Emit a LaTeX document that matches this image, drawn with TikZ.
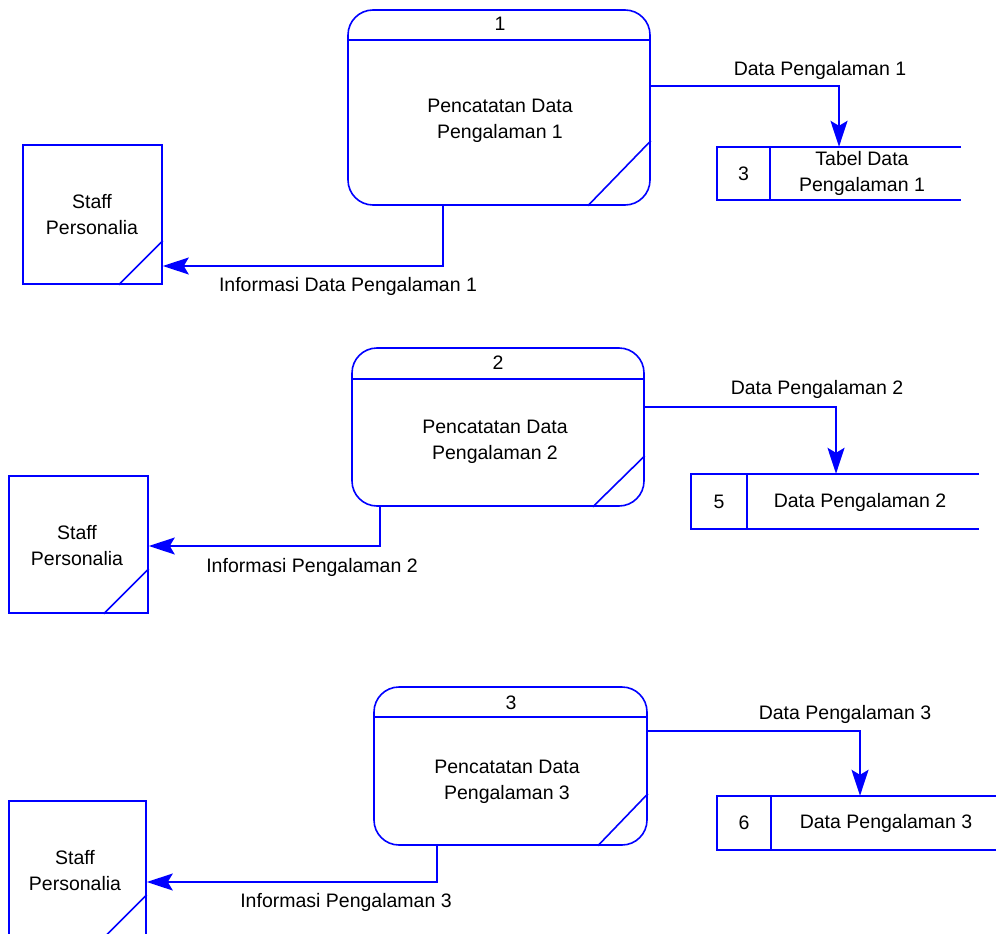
\documentclass[tikz,border=0pt]{standalone}
\usepackage{fontspec}
\setmainfont{Liberation Sans}
\usetikzlibrary{arrows.meta}
\definecolor{dfdblue}{RGB}{0,0,255}

\begin{document}
\begin{tikzpicture}[x=1pt,y=-1pt,
            proc/.style={draw=dfdblue,line width=1.6pt,rounded corners=25pt,inner sep=0pt},
            ent/.style={draw=dfdblue,line width=1.6pt,inner sep=0pt},
            store/.style={inner sep=0pt},
            txt/.style={font=\fontsize{19.5}{26}\selectfont,align=center,inner sep=0pt},
            edge/.style={draw=dfdblue,line width=1.6pt},
            flow/.style={edge,-{Stealth[length=26pt,width=17pt,inset=5pt]}}]
            \useasboundingbox (0,0) rectangle (996,934);
            \node [proc,minimum width=302pt,minimum height=195pt] (p1) at (499,107.5) {};
            \draw [edge] ([yshift=-31pt]p1.north west) -- ([yshift=-31pt]p1.north east);
            \draw [edge] ([yshift=65pt]p1.south east) -- ([xshift=-63pt]p1.south east);
            \node [txt] (p1num) at (500,24) {1};
            \node [txt] (p1txt) at (500,121) {Pencatatan Data\\Pengalaman 1};
            \node [proc,minimum width=292pt,minimum height=158pt] (p2) at (498,427) {};
            \draw [edge] ([yshift=-32pt]p2.north west) -- ([yshift=-32pt]p2.north east);
            \draw [edge] ([yshift=51pt]p2.south east) -- ([xshift=-52pt]p2.south east);
            \node [txt] (p2num) at (498,363) {2};
            \node [txt] (p2txt) at (495,442) {Pencatatan Data\\Pengalaman 2};
            \node [proc,minimum width=273pt,minimum height=158pt] (p3) at (510.5,766) {};
            \draw [edge] ([yshift=-31pt]p3.north west) -- ([yshift=-31pt]p3.north east);
            \draw [edge] ([yshift=52pt]p3.south east) -- ([xshift=-50pt]p3.south east);
            \node [txt] (p3num) at (511,703) {3};
            \node [txt] (p3txt) at (507,782) {Pencatatan Data\\Pengalaman 3};
            \node [ent,minimum width=139pt,minimum height=139pt] (e1) at (92.5,214.5) {};
            \draw [edge] ([yshift=44pt]e1.south east) -- ([xshift=-44pt]e1.south east);
            \node [txt] (e1txt) at (92,215) {Staff\\Personalia};
            \node [ent,minimum width=139pt,minimum height=137pt] (e2) at (78.5,544.5) {};
            \draw [edge] ([yshift=45pt]e2.south east) -- ([xshift=-45pt]e2.south east);
            \node [txt] (e2txt) at (77,546) {Staff\\Personalia};
            \node [ent,minimum width=137pt,minimum height=137pt] (e3) at (77.5,869.5) {};
            \draw [edge] ([yshift=44pt]e3.south east) -- ([xshift=-44pt]e3.south east);
            \node [txt] (e3txt) at (75,871) {Staff\\Personalia};
            \node [store,minimum width=244pt,minimum height=53pt] (s1) at (839,173.5) {};
            \draw [edge] (s1.north east) -- (s1.north west) -- (s1.south west) -- (s1.south east);
            \draw [edge] ([xshift=53pt]s1.north west) -- ([xshift=53pt]s1.south west);
            \node [txt] (s1num) at (743.5,173.5) {3};
            \node [txt] (s1txt) at (862,173.5) {Tabel Data\\Pengalaman 1};
            \node [store,minimum width=288pt,minimum height=55pt] (s5) at (835,501.5) {};
            \draw [edge] (s5.north east) -- (s5.north west) -- (s5.south west) -- (s5.south east);
            \draw [edge] ([xshift=56pt]s5.north west) -- ([xshift=56pt]s5.south west);
            \node [txt] (s5num) at (719,502) {5};
            \node [txt] (s5txt) at (860,502) {Data Pengalaman 2};
            \node [store,minimum width=281pt,minimum height=54pt] (s6) at (857.5,823) {};
            \draw [edge] (s6.north east) -- (s6.north west) -- (s6.south west) -- (s6.south east);
            \draw [edge] ([xshift=54pt]s6.north west) -- ([xshift=54pt]s6.south west);
            \node [txt] (s6num) at (744,823) {6};
            \node [txt] (s6txt) at (886,823) {Data Pengalaman 3};
            \coordinate (b1) at (839,86);
            \draw [flow] (p1.east |- b1) -- (b1) -- (s1.north -| b1);
            \node [txt] (f1txt) at (820,70) {Data Pengalaman 1};
            \coordinate (c1) at (443,266);
            \draw [flow] (p1.south -| c1) -- (c1) -- (e1.east |- c1);
            \node [txt] (i1txt) at (348,286) {Informasi Data Pengalaman 1};
            \coordinate (b2) at (836,407);
            \draw [flow] (p2.east |- b2) -- (b2) -- (s5.north -| b2);
            \node [txt] (f2txt) at (817,389) {Data Pengalaman 2};
            \coordinate (c2) at (380,546);
            \draw [flow] (p2.south -| c2) -- (c2) -- (e2.east |- c2);
            \node [txt] (i2txt) at (312,567) {Informasi Pengalaman 2};
            \coordinate (b3) at (860,731);
            \draw [flow] (p3.east |- b3) -- (b3) -- (s6.north -| b3);
            \node [txt] (f3txt) at (845,714) {Data Pengalaman 3};
            \coordinate (c3) at (437,882);
            \draw [flow] (p3.south -| c3) -- (c3) -- (e3.east |- c3);
            \node [txt] (i3txt) at (346,902) {Informasi Pengalaman 3};
        \end{tikzpicture}
\end{document}
